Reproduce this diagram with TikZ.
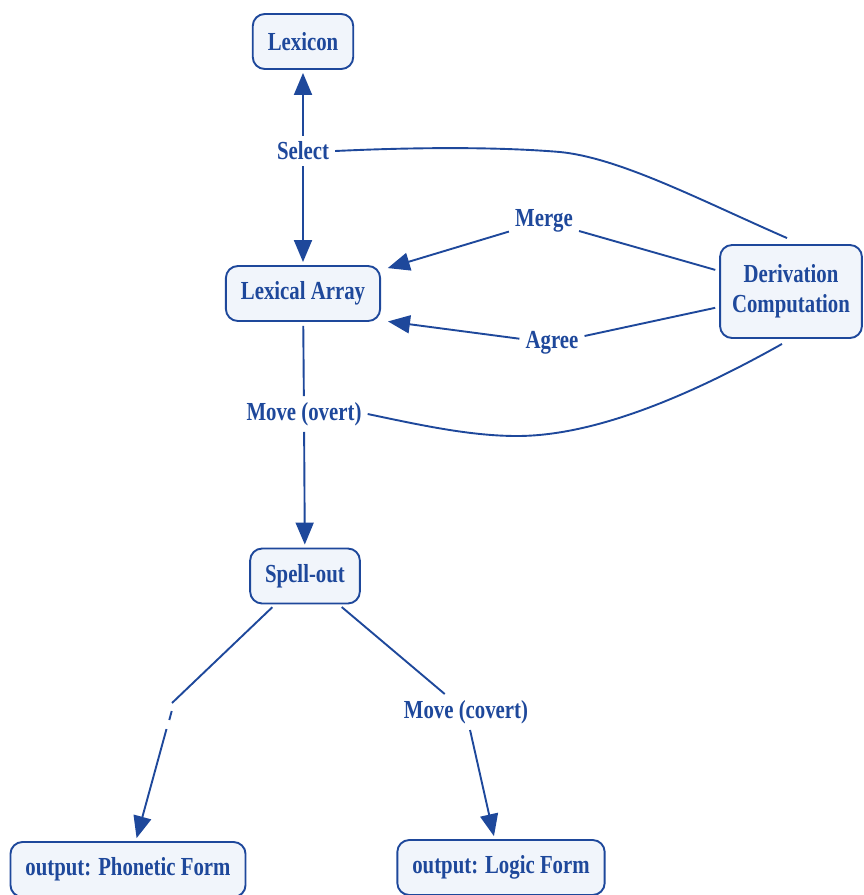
\documentclass[tikz,border=0pt]{standalone}
\usepackage{fontspec}
\setmainfont{Liberation Serif}[FakeStretch=0.8]
\usetikzlibrary{arrows.meta}
\definecolor{cmapblue}{RGB}{30,72,155}
\definecolor{cmapfill}{RGB}{241,245,251}

\begin{document}
\begin{tikzpicture}[x=1pt, y=-1pt,
    concept/.style={draw=cmapblue, line width=1.9pt, fill=cmapfill, rounded corners=12pt,
      text=cmapblue, font=\fontsize{26}{30}\selectfont\bfseries, align=center,
      inner xsep=15pt, minimum height=55pt},
    phrase/.style={text=cmapblue, font=\fontsize{26}{30}\selectfont\bfseries, inner sep=6pt},
    link/.style={draw=cmapblue, line width=1.9pt, shorten <=4pt},
    linkto/.style={draw=cmapblue, line width=1.9pt, -{Triangle[length=22pt,width=18pt]}, shorten >=3pt}]
  \useasboundingbox (0,0) rectangle (863,895);

  \node[concept] (lex) at (303,41.5) {Lexicon};
  \node[concept] (array) at (303,293.5) {Lexical Array};
  \node[concept, inner xsep=12pt, minimum height=93pt] (deriv) at (791,291.5) {Derivation\\Computation};
  \node[concept] (spell) at (305,576) {Spell-out};
  \node[concept] (pf) at (128,869.5) {output: Phonetic Form};
  \node[concept] (lf) at (501,867.5) {output: Logic Form};

  \node[phrase] (select) at (303,151) {Select};
  \node[phrase] (merge) at (544,221) {Merge};
  \node[phrase] (agree) at (552,343) {Agree};
  \node[phrase] (moveo) at (304,414) {Move (overt)};
  \node[phrase] (movec) at (466,712) {Move (covert)};
  \coordinate (pfgapA) at (172,703);
  \coordinate (pfgapB) at (171.7,711);
  \coordinate (pfgapC) at (169.3,720);
  \coordinate (pfgapD) at (166.5,729);

  \draw[linkto] (select) -- (lex);
  \draw[linkto] (select) -- (array);
  \draw[link, shorten <=0pt] (select.east) .. controls (420,147) and (500,147) .. (560,152)
    .. controls (620,158) and (700,200) .. ([shift={(-4pt,6pt)}]deriv.north);
  \draw[link] (deriv) -- (merge);
  \draw[linkto, shorten >=7pt] (merge) -- (array);
  \draw[link] (deriv) -- (agree);
  \draw[linkto, shorten >=7pt] (agree) -- ([yshift=-27pt]array.east);
  \draw[link] (array) -- (moveo);
  \draw[linkto] (moveo) -- (spell);
  \draw[link, shorten <=0pt] (moveo.east) .. controls (420,425) and (470,436) .. (517,436)
    .. controls (600,436) and (700,390) .. ([shift={(-9pt,-5pt)}]deriv.south);
  \draw[link] (spell) -- (pfgapA);
  \draw[link, shorten <=0pt] (pfgapB) -- (pfgapC);
  \draw[linkto] (pfgapD) -- (pf);
  \draw[link] (spell) -- (movec);
  \draw[linkto] (movec) -- (lf);
\end{tikzpicture}
\end{document}
